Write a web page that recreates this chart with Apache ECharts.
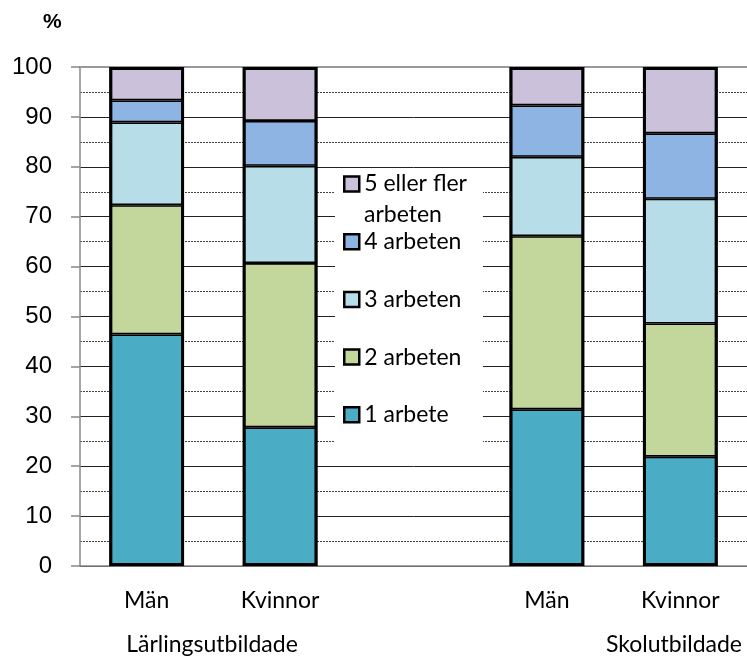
<!DOCTYPE html>
<html>
<head>
<meta charset="utf-8">
<script src="https://cdn.jsdelivr.net/npm/echarts@6/dist/echarts.min.js"></script>
<style>html,body{margin:0;padding:0;background:#fff}#c{width:747px;height:656px}</style>
</head>
<body>
<div id="c"></div>
<script>
var categories = ['Män', 'Kvinnor', '', 'Män', 'Kvinnor'];
var groupLabels = ['Lärlingsutbildade', 'Skolutbildade'];
var seriesNames = ['1 arbete', '2 arbeten', '3 arbeten', '4 arbeten', '5 eller fler arbeten'];
var s1 = [46.4, 27.8, null, 31.4, 21.9];
var s2 = [25.9, 32.9, null, 34.7, 26.7];
var s3 = [16.6, 19.5, null, 15.9, 25.0];
var s4 = [4.4, 9.0, null, 10.3, 13.1];
var s5 = [6.7, 10.8, null, 7.7, 13.3];
var yTicks = [0, 10, 20, 30, 40, 50, 60, 70, 80, 90, 100];
var colors = ['#4BACC6', '#C3D69B', '#B7DEE8', '#8EB4E3', '#CCC1DA'];

var values = [s1, s2, s3, s4, s5];
var chart = echarts.init(document.getElementById('c'), null, {renderer: 'canvas'});
var font = 'Lato, "Noto Sans", sans-serif';
var series = values.map(function (v, i) {
  return {
    name: seriesNames[i], type: 'bar', stack: 'tot', data: v,
    barWidth: '56%', barGap: '-100%',
    itemStyle: {color: colors[i], borderColor: '#000', borderWidth: 1.6},
    emphasis: {disabled: true}
  };
});
var totals = categories.map(function (c, k) {
  if (s1[k] == null) return null;
  return values.reduce(function (a, v) { return a + v[k]; }, 0);
});
series.push({
  name: 'outline', type: 'bar', data: totals, z: 5,
  barWidth: '56%', barGap: '-100%',
  itemStyle: {color: 'rgba(0,0,0,0)', borderColor: '#000', borderWidth: 3},
  emphasis: {disabled: true}, silent: true
});
chart.setOption({
  animation: false,
  grid: {left: 80, top: 67, bottom: 90, right: -6},
  xAxis: [{
    type: 'category', data: categories,
    axisLine: {lineStyle: {color: '#888', width: 1.5}},
    axisTick: {length: 9, lineStyle: {color: '#888', width: 1.5}},
    axisLabel: {fontFamily: font, fontSize: 23, color: '#000', margin: 23}
  }, {
    type: 'category', data: categories, position: 'top',
    axisLine: {lineStyle: {color: '#999', width: 2}},
    axisTick: {show: false}, axisLabel: {show: false}
  }],
  yAxis: {
    type: 'value', min: yTicks[0], max: yTicks[yTicks.length - 1], interval: 10,
    axisLine: {show: true, lineStyle: {color: '#888', width: 1.5}},
    axisTick: {show: true, length: 9, lineStyle: {color: '#888', width: 1.5}},
    axisLabel: {fontFamily: 'Arial, "Liberation Sans", sans-serif', fontSize: 24, color: '#000', margin: 28},
    splitLine: {show: true, showMaxLine: false, lineStyle: {color: '#222', width: 1}},
    minorTick: {show: false, splitNumber: 2},
    minorSplitLine: {show: true, lineStyle: {color: '#444', width: 1, type: [2, 1]}}
  },
  legend: {
    orient: 'vertical', left: 335, top: 168.5,
    data: seriesNames.slice().reverse(),
    icon: 'rect',
    itemWidth: 15, itemHeight: 15, itemGap: 34.7,
    padding: [4, 16, 26, 8],
    backgroundColor: '#fff',
    selectedMode: false,
    itemStyle: {borderWidth: 2.5, borderColor: '#000'},
    formatter: function (n) { return n === '5 eller fler arbeten' ? '5 eller fler' : n; },
    textStyle: {fontFamily: font, fontSize: 23, color: '#000', lineHeight: 23}
  },
  graphic: [
    {type: 'text', left: 364, top: 203, z: 100, style: {text: 'arbeten', font: '23px ' + font, fill: '#000'}},
    {type: 'text', left: 43, top: 12, style: {text: '%', font: 'bold 21px Arial, "Liberation Sans", sans-serif', fill: '#000'}},
    {type: 'text', x: 212, y: 645, style: {text: groupLabels[0], font: '23px ' + font, fill: '#000', align: 'center', verticalAlign: 'middle'}},
    {type: 'text', x: 742, y: 645, style: {text: groupLabels[1], font: '23px ' + font, fill: '#000', align: 'right', verticalAlign: 'middle'}}
  ],
  series: series
});
</script>
</body>
</html>
